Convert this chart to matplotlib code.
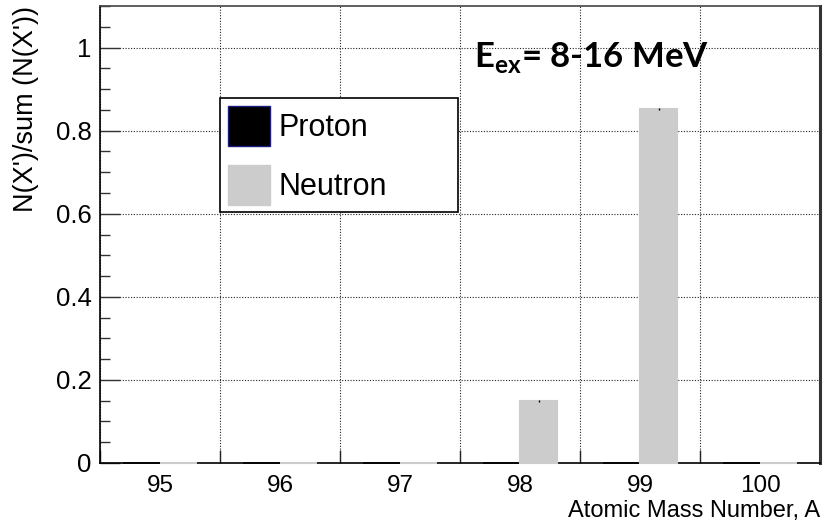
import numpy as np
import matplotlib
matplotlib.use("Agg")
import matplotlib.pyplot as plt
from matplotlib.patches import Patch
from matplotlib.ticker import MultipleLocator, FixedLocator

plt.rcParams['font.family'] = ['Liberation Sans', 'DejaVu Sans']
plt.rcParams['mathtext.fontset'] = 'custom'
plt.rcParams['mathtext.bf'] = 'Lato:bold'
plt.rcParams['mathtext.rm'] = 'Lato:bold'

# fraction of each daughter nucleus, 8-16 MeV excitation
mass_numbers = [95, 96, 97, 98, 99, 100]
proton_frac = [0.0, 0.0, 0.0, 0.0, 0.0, 0.0]
neutron_frac = [0.0, 0.0, 0.0, 0.150, 0.852, 0.0]
neutron_err = [0.0, 0.0, 0.0, 0.002, 0.002, 0.0]

bar_w = 0.31
grey = '#cccccc'

fig = plt.figure(figsize=(8.35, 5.24), dpi=100)
ax = fig.add_axes([100/835, 1 - 463/524, 720/835, 457/524])

x = np.array(mass_numbers, dtype=float)

# protons sit left of the bin centre, neutrons to the right
ax.bar(x - bar_w, proton_frac, width=bar_w, align='edge', color='k',
       edgecolor='k', lw=1.2, zorder=3, clip_on=False)
ax.bar(x, neutron_frac, width=bar_w, align='edge', color=grey,
       edgecolor=grey, lw=1.5, zorder=3, clip_on=False)
ax.errorbar(x + bar_w / 2, neutron_frac, yerr=neutron_err, fmt='none',
            ecolor='k', elinewidth=1, zorder=4)

ax.set_xlim(mass_numbers[0] - 0.5, mass_numbers[-1] + 0.5)
ax.set_ylim(0, 1.1)

# x: ticks on bin edges, labels on bin centres
edges = np.arange(mass_numbers[0] - 0.5, mass_numbers[-1] + 1, 1.0)
ax.xaxis.set_major_locator(FixedLocator(edges))
ax.xaxis.set_minor_locator(FixedLocator(x))
ax.set_xticklabels([''] * len(edges))
ax.set_xticklabels([str(m) for m in mass_numbers], minor=True)
ax.tick_params(axis='x', which='major', direction='in', length=9.5,
               width=1, color='#222222', top=False)
ax.tick_params(axis='x', which='minor', length=0, pad=9, labelsize=17.5)

ax.yaxis.set_major_locator(MultipleLocator(0.2))
ax.yaxis.set_minor_locator(MultipleLocator(0.05))
ax.set_yticks([0, 0.2, 0.4, 0.6, 0.8, 1.0])
ax.set_yticklabels(['0', '0.2', '0.4', '0.6', '0.8', '1'])
ax.tick_params(axis='y', which='major', direction='in', length=14.5,
               width=1, color='#333333', labelsize=18.5, pad=6, right=False)
ax.tick_params(axis='y', which='minor', direction='in', length=7.5,
               width=1, color='#333333', right=False)

ax.grid(True, which='major', color='#222222', lw=0.8, ls=(0, (1, 1.5)))
ax.set_axisbelow(True)

for s in ['left', 'bottom']:
    ax.spines[s].set_linewidth(1.2)
    ax.spines[s].set_color('k')
ax.spines['top'].set_color('#444444')
ax.spines['top'].set_linewidth(1.2)
ax.spines['right'].set_color('#333333')
ax.spines['right'].set_linewidth(2.2)

ax.set_xlabel('Atomic Mass Number, A', fontsize=17, loc='right', labelpad=2)
ax.set_ylabel("N(X')/sum (N(X'))", fontsize=19.5, loc='top', labelpad=12)

ax.text(97.62, 0.952, r"$\mathbf{E}_{\mathbf{ex}}$= 8-16 MeV",
        fontsize=25, fontweight='bold', family='Lato', va='baseline', ha='left')

handles = [Patch(facecolor='k', edgecolor='#1c1c80', lw=1),
           Patch(facecolor=grey, edgecolor=grey, lw=1)]
leg = ax.legend(handles, ['Proton', 'Neutron'], fontsize=22,
                loc='upper left', mode='expand',
                bbox_to_anchor=(220/835, 1 - 212/524, 238/835, 114/524),
                bbox_transform=fig.transFigure, borderaxespad=0,
                handlelength=1.37, handleheight=1.64, handletextpad=0.3,
                labelspacing=0.62, borderpad=0.25, fancybox=False,
                framealpha=1, edgecolor='k')
leg.get_frame().set_linewidth(1.2)

fig.savefig('out.png', dpi=100)
